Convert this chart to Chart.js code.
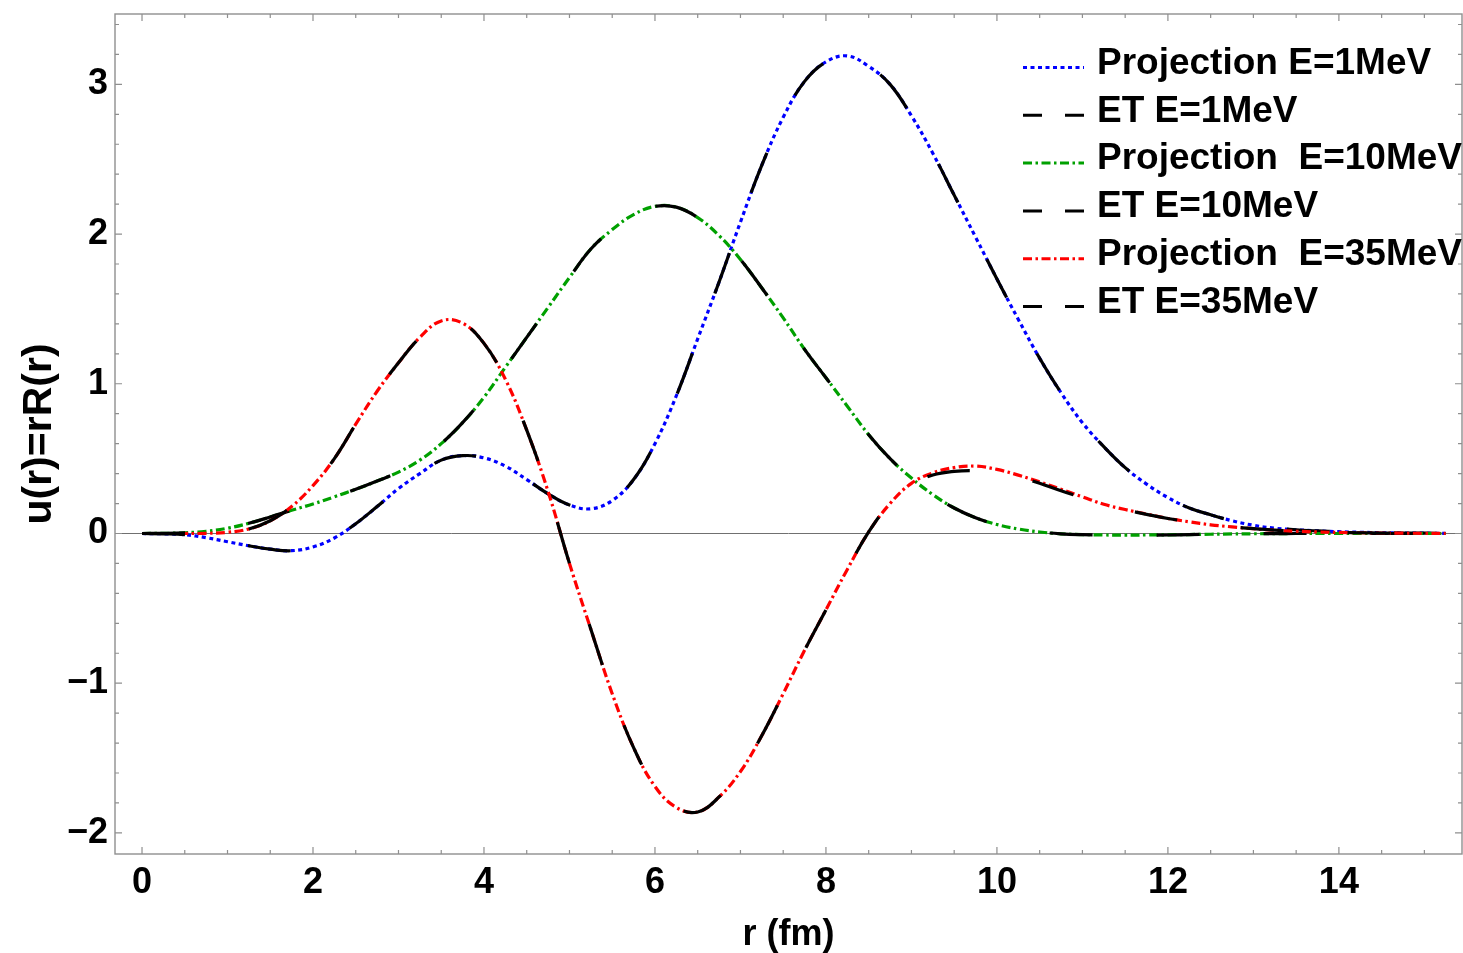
<!DOCTYPE html>
<html>
<head>
<meta charset="utf-8">
<script src="https://cdn.jsdelivr.net/npm/chart.js@4.4.1/dist/chart.umd.min.js"></script>
<style>
    html, body { margin: 0; padding: 0; background: #ffffff; }
    #wrap { width: 1463px; height: 953px; position: relative; }
</style>
</head>
<body>
<div id="wrap"><canvas id="waveChart"></canvas></div>
<script>
// Radial grid r (fm)
const rValues = [0, 0.25, 0.5, 0.75, 1, 1.25, 1.5, 1.75, 2, 2.25, 2.5, 2.75, 3, 3.25, 3.5, 3.75,
    4, 4.25, 4.5, 4.75, 5, 5.25, 5.5, 5.75, 6, 6.25, 6.5, 6.75, 7, 7.25, 7.5, 7.75,
    8, 8.25, 8.5, 8.75, 9, 9.25, 9.5, 9.75, 10, 10.25, 10.5, 10.75, 11, 11.25, 11.5, 11.75,
    12, 12.25, 12.5, 12.75, 13, 13.25, 13.5, 13.75, 14, 14.25, 14.5, 14.75, 15, 15.25];

// u(r), one list per curve
const proj1Values = [0, -0.002, -0.008, -0.028, -0.055, -0.082, -0.105, -0.115, -0.09, -0.03,
    0.065, 0.18, 0.3, 0.4, 0.49, 0.52, 0.505, 0.45, 0.36, 0.265,
    0.19, 0.165, 0.22, 0.36, 0.6, 0.92, 1.3, 1.68, 2.08, 2.46,
    2.78, 3.02, 3.15, 3.19, 3.12, 3.0, 2.79, 2.54, 2.26, 1.98,
    1.7, 1.43, 1.17, 0.94, 0.74, 0.58, 0.44, 0.33, 0.24, 0.17,
    0.125, 0.085, 0.055, 0.035, 0.025, 0.017, 0.012, 0.008, 0.005, 0.003,
    0.002, 0.001];
const et1Values = [0, -0.002, -0.008, -0.028, -0.055, -0.082, -0.105, -0.115, -0.09, -0.03,
    0.065, 0.18, 0.3, 0.4, 0.49, 0.52, 0.505, 0.45, 0.36, 0.265,
    0.19, 0.165, 0.22, 0.36, 0.6, 0.92, 1.3, 1.68, 2.08, 2.46,
    2.78, 3.02, 3.15, 3.19, 3.12, 3.0, 2.79, 2.54, 2.26, 1.98,
    1.7, 1.43, 1.17, 0.94, 0.74, 0.58, 0.44, 0.33, 0.24, 0.17,
    0.125, 0.085, 0.055, 0.035, 0.025, 0.017, 0.012, 0.008, 0.005, 0.003,
    0.002, 0.001];
const proj10Values = [0, 0.001, 0.005, 0.015, 0.035, 0.068, 0.11, 0.155, 0.197, 0.245,
    0.295, 0.35, 0.41, 0.49, 0.6, 0.74, 0.91, 1.11, 1.31, 1.51,
    1.71, 1.9, 2.03, 2.13, 2.185, 2.18, 2.11, 1.99, 1.83, 1.64,
    1.44, 1.23, 1.04, 0.85, 0.66, 0.5, 0.37, 0.26, 0.17, 0.105,
    0.06, 0.03, 0.01, -0.002, -0.007, -0.01, -0.011, -0.01, -0.009, -0.007,
    -0.005, -0.003, -0.002, -0.001, 0, 0, 0, 0, 0, 0,
    0, 0];
const et10Values = [0, 0.001, 0.005, 0.015, 0.035, 0.068, 0.11, 0.155, 0.197, 0.245,
    0.295, 0.35, 0.41, 0.49, 0.6, 0.74, 0.91, 1.11, 1.31, 1.51,
    1.71, 1.9, 2.03, 2.13, 2.185, 2.18, 2.11, 1.99, 1.83, 1.64,
    1.44, 1.23, 1.04, 0.85, 0.66, 0.5, 0.37, 0.26, 0.17, 0.105,
    0.06, 0.03, 0.01, -0.002, -0.008, -0.011, -0.012, -0.011, -0.01, -0.008,
    -0.005, -0.003, -0.002, -0.001, 0, 0, 0, 0, 0, 0,
    0, 0];
const proj35Values = [0, 0, 0, 0.001, 0.008, 0.03, 0.085, 0.18, 0.32, 0.5,
    0.73, 0.95, 1.14, 1.31, 1.42, 1.405, 1.27, 1.03, 0.69, 0.28,
    -0.2, -0.64, -1.07, -1.43, -1.69, -1.83, -1.86, -1.76, -1.59, -1.35,
    -1.07, -0.78, -0.51, -0.24, 0.01, 0.2, 0.335, 0.405, 0.44, 0.45,
    0.428, 0.39, 0.345, 0.295, 0.245, 0.195, 0.16, 0.13, 0.1, 0.078,
    0.058, 0.044, 0.032, 0.022, 0.015, 0.01, 0.007, 0.005, 0.003, 0.002,
    0.001, 0];
const et35Values = [0, 0, 0, 0.001, 0.008, 0.03, 0.085, 0.18, 0.32, 0.5,
    0.73, 0.95, 1.14, 1.31, 1.42, 1.405, 1.27, 1.03, 0.69, 0.28,
    -0.2, -0.64, -1.07, -1.43, -1.69, -1.83, -1.86, -1.76, -1.59, -1.35,
    -1.07, -0.78, -0.51, -0.24, 0.01, 0.2, 0.325, 0.39, 0.415, 0.42,
    0.41, 0.38, 0.335, 0.285, 0.24, 0.192, 0.158, 0.128, 0.1, 0.078,
    0.058, 0.044, 0.032, 0.022, 0.015, 0.01, 0.007, 0.005, 0.003, 0.002,
    0.001, 0];

const seriesLabels = ['Projection E=1MeV', 'ET E=1MeV', 'Projection  E=10MeV',
    'ET E=10MeV', 'Projection  E=35MeV', 'ET E=35MeV'];

// Tick labels
const xTickValues = [0, 2, 4, 6, 8, 10, 12, 14];
const yTickValues = [-2, -1, 0, 1, 2, 3];

const FONT = '"Liberation Sans", Arial, sans-serif';
const frameColor = '#8f8f8f';

// Pair the r grid with one list of u values
function toPoints(values) {
    return values.map((u, i) => ({ x: rValues[i], y: u }));
}

const dotted = [4, 3.5];
const dotDash = [9, 3.5, 2.5, 3.5];
const longDash = [43, 64];
const legendLongDash = [19, 23];

const seriesStyles = [
    { color: '#0000ff', dash: dotted, legendDash: dotted },
    { color: '#000000', dash: longDash, legendDash: legendLongDash },
    { color: '#00a000', dash: dotDash, legendDash: dotDash },
    { color: '#000000', dash: longDash, legendDash: legendLongDash },
    { color: '#ff0000', dash: dotDash, legendDash: dotDash },
    { color: '#000000', dash: longDash, legendDash: legendLongDash }
];
const seriesValues = [proj1Values, et1Values, proj10Values, et10Values, proj35Values, et35Values];

const datasets = seriesValues.map((values, i) => ({
    label: seriesLabels[i],
    data: toPoints(values),
    borderColor: seriesStyles[i].color,
    borderDash: seriesStyles[i].dash,
    legendDash: seriesStyles[i].legendDash,
    borderWidth: 3.2,
    pointRadius: 0,
    fill: false,
    tension: 0.4,
    // later series drawn on top, as in the original
    order: seriesValues.length - i
}));

// Zero line under the curves
const zeroLine = {
    id: 'zeroLine',
    beforeDatasetsDraw(chart) {
        const { ctx, chartArea: a, scales: { y } } = chart;
        const py = Math.round(y.getPixelForValue(0)) + 0.5;
        ctx.save();
        ctx.strokeStyle = '#707070';
        ctx.lineWidth = 1;
        ctx.beginPath();
        ctx.moveTo(a.left, py);
        ctx.lineTo(a.right, py);
        ctx.stroke();
        ctx.restore();
    }
};

// Frame with inward ticks on all four sides
const frameTicks = {
    id: 'frameTicks',
    afterDatasetsDraw(chart) {
        const { ctx, chartArea: a, scales: { x, y } } = chart;
        ctx.save();
        ctx.strokeStyle = frameColor;
        ctx.lineWidth = 1.4;
        ctx.strokeRect(a.left, a.top, a.right - a.left, a.bottom - a.top);

        ctx.lineWidth = 1.2;
        ctx.beginPath();
        for (let v = 0; v <= x.max; v += 0.5) {
            const px = x.getPixelForValue(v);
            const len = v % 2 === 0 ? 7 : 4;
            ctx.moveTo(px, a.bottom); ctx.lineTo(px, a.bottom - len);
            ctx.moveTo(px, a.top); ctx.lineTo(px, a.top + len);
        }
        for (let k = -10; k * 0.2 <= y.max; k++) {
            const py = y.getPixelForValue(k * 0.2);
            const len = k % 5 === 0 ? 7 : 4;
            ctx.moveTo(a.left, py); ctx.lineTo(a.left + len, py);
            ctx.moveTo(a.right, py); ctx.lineTo(a.right - len, py);
        }
        ctx.stroke();
        ctx.restore();
    }
};

// Legend drawn inside the plot, top right
const insideLegend = {
    id: 'insideLegend',
    afterDraw(chart) {
        const { ctx } = chart;
        const lineStart = 1023, lineEnd = 1084, textX = 1097;
        const firstRow = 67.5, rowGap = 47.8;
        ctx.save();
        chart.data.datasets.forEach((ds, i) => {
            const rowY = firstRow + i * rowGap;
            ctx.beginPath();
            ctx.setLineDash(ds.legendDash);
            ctx.strokeStyle = ds.borderColor;
            ctx.lineWidth = 3;
            ctx.moveTo(lineStart, rowY);
            ctx.lineTo(lineEnd, rowY);
            ctx.stroke();
            ctx.setLineDash([]);
            ctx.fillStyle = '#000000';
            ctx.font = 'bold 37px ' + FONT;
            ctx.textAlign = 'left';
            ctx.textBaseline = 'middle';
            ctx.fillText(ds.label, textX, rowY - 4);
        });
        ctx.restore();
    }
};

const ctx = document.getElementById('waveChart').getContext('2d');
new Chart(ctx, {
    type: 'line',
    data: { datasets: datasets },
    plugins: [zeroLine, frameTicks, insideLegend],
    options: {
        responsive: true,
        maintainAspectRatio: false,
        animation: false,
        layout: { padding: { top: 14, right: 1, bottom: 0, left: 0 } },
        plugins: {
            legend: { display: false },
            tooltip: { enabled: false }
        },
        scales: {
            x: {
                type: 'linear',
                min: -0.316,
                max: 15.44,
                afterFit(scale) {
                    scale.height = 99;
                    scale.paddingLeft = 0;
                    scale.paddingRight = 0;
                },
                afterBuildTicks(scale) { scale.ticks = xTickValues.map(v => ({ value: v })); },
                grid: { display: false, drawTicks: false },
                border: { display: false },
                ticks: {
                    autoSkip: false,
                    maxRotation: 0,
                    padding: 7,
                    color: '#000000',
                    font: { family: FONT, size: 36, weight: 'bold' }
                },
                title: {
                    display: true,
                    text: 'r (fm)',
                    color: '#000000',
                    font: { family: FONT, size: 36, weight: 'bold', lineHeight: 1 },
                    padding: { top: 0, bottom: 0 }
                }
            },
            y: {
                type: 'linear',
                min: -2.141,
                max: 3.47,
                afterFit(scale) {
                    scale.width = 115;
                    scale.paddingTop = 0;
                    scale.paddingBottom = 0;
                },
                afterBuildTicks(scale) { scale.ticks = yTickValues.map(v => ({ value: v })); },
                grid: { display: false, drawTicks: false },
                border: { display: false },
                ticks: {
                    autoSkip: false,
                    padding: 7,
                    color: '#000000',
                    font: { family: FONT, size: 36, weight: 'bold' },
                    callback: v => (v < 0 ? '\u2212' + Math.abs(v) : String(v))
                },
                title: {
                    display: true,
                    text: 'u(r)=rR(r)',
                    color: '#000000',
                    font: { family: FONT, size: 41, weight: 'bold', lineHeight: 1 },
                    padding: { top: 19, bottom: 0 }
                }
            }
        }
    }
});
</script>
</body>
</html>
